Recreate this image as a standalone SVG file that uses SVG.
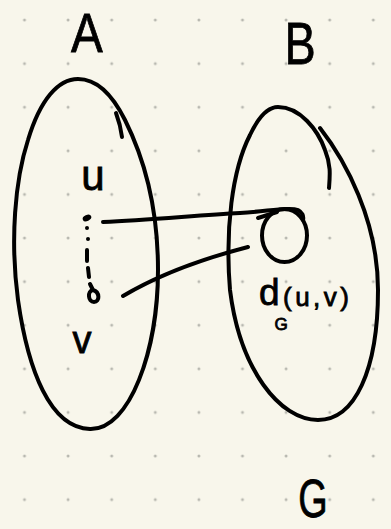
<svg xmlns="http://www.w3.org/2000/svg" width="391" height="529" viewBox="0 0 391 529">
<style>
.ink{fill:none;stroke:#000;stroke-width:4;stroke-linecap:round;stroke-linejoin:round}
.lbl{font-family:"Liberation Sans","DejaVu Sans",sans-serif;fill:#000;stroke:#000;stroke-width:0.8}
</style>
<defs>
<pattern id="grid" patternUnits="userSpaceOnUse" x="2.7" y="-1.8" width="43.6" height="43.6">
<circle cx="21.8" cy="21.8" r="1.5" fill="#b8b8b0"/>
</pattern>
</defs>
<rect width="391" height="529" fill="#f8f6eb"/>
<rect width="391" height="529" fill="url(#grid)"/>
<g id="setA">
<path class="ink" d="M78,79 C100,79 115,100 125,120 C145,160 158,210 158,270 C158,350 130,430 90,429 C50,428 28,370 18,300 C10,240 15,180 28,140 C40,100 58,79 78,79 Z"/>
<path class="ink" d="M116,113 C119,121 121,129 122,137"/>
<text class="lbl" x="87" y="52" font-size="56" text-anchor="middle" transform="translate(87 0) scale(0.85 1) translate(-87 0)">A</text>
</g>
<g id="setB">
<path class="ink" d="M320,128 C345,160 378,220 378,290 C378,370 355,420 318,420 C280,420 240,370 230,290 C225,230 232,170 250,135 C258,118 268,107 278,107 C300,107 318,130 325,150 C331,165 330,175 329,188"/>
<text class="lbl" x="300" y="64" font-size="60" text-anchor="middle" transform="translate(300 0) scale(0.78 1) translate(-300 0)">B</text>
</g>
<g id="vertex-u">
<text class="lbl" x="93" y="190" font-size="42" text-anchor="middle">u</text>
<ellipse cx="87" cy="218" rx="4.5" ry="3" transform="rotate(-25 87 218)" fill="#000"/>
</g>
<g id="vertex-v">
<text class="lbl" x="82" y="353" font-size="38" text-anchor="middle">v</text>
<path class="ink" stroke-width="3" d="M90,284 L93,290 C87,291 88,302 94,302 C100,302 100,292 93,290"/>
</g>
<g id="distance">
<ellipse class="ink" cx="284.5" cy="235.5" rx="22.5" ry="26.5"/>
<text class="lbl" x="259" y="305" font-size="37">d</text>
<text class="lbl" x="283" y="306" font-size="26" textLength="66" lengthAdjust="spacing">(u,v)</text>
<text class="lbl" x="281" y="330" font-size="17" text-anchor="middle">G</text>
</g>
<g id="label-G">
<text class="lbl" x="313" y="517" font-size="54" text-anchor="middle" transform="translate(313 0) scale(0.7 1) translate(-313 0)">G</text>
</g>
<g id="connectors">
<path class="ink" d="M103,222 C150,220 200,215 240,213 C270,211 290,207 298,210 C302,212 304,216 303,220"/>
<path class="ink" d="M258,218 L277,212"/>
<path class="ink" d="M123,296 C150,280 190,262 248,247"/>
<g fill="#000">
<circle cx="87" cy="228" r="2"/>
<circle cx="88" cy="239" r="2"/>
</g>
<path class="ink" stroke-width="3.5" d="M87,250 L87,261 M88,268 L89,277"/>
</g>
</svg>
